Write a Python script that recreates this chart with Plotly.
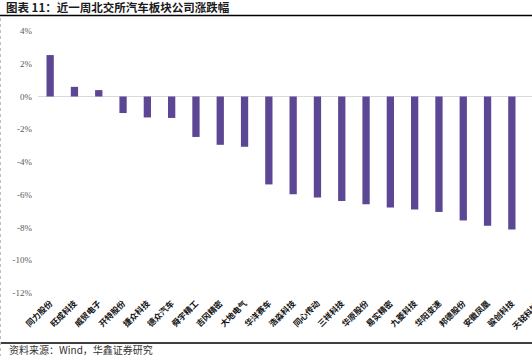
import plotly.graph_objects as go

categories = ["同力股份", "旺成科技", "威贸电子", "开特股份", "捷众科技", "德众汽车", "舜宇精工",
              "吉冈精密", "大地电气", "华洋赛车", "浩淼科技", "同心传动", "三祥科技", "华原股份",
              "易实精密", "九菱科技", "华阳变速", "邦德股份", "安徽凤凰", "骏创科技", "天铭科技"]
changes = [2.53, 0.59, 0.39, -1.01, -1.28, -1.31, -2.47, -2.95, -3.07, -5.37, -5.97, -6.17,
           -6.38, -6.58, -6.78, -6.90, -7.05, -7.57, -7.90, -8.12, -8.50]
y_ticks = [4, 2, 0, -2, -4, -6, -8, -10, -12]
y_tick_labels = ["4%", "2%", "0%", "-2%", "-4%", "-6%", "-8%", "-10%", "-12%"]

title_text = "图表 11：近一周北交所汽车板块公司涨跌幅"
source_text = "资料来源：Wind，华鑫证券研究"

W, H = 532, 356
L, R, T, B = 38, 0, 31, 63
plot_w = W - L - R
plot_h = H - T - B
step = 24.3
x_max = -0.5 + plot_w / step
x_range = [-0.5, x_max]

def px_to_paper_x(px):
    return (px - L) / plot_w

def px_to_paper_y(py):
    return (H - B - py) / plot_h

label_font = dict(family="Noto Sans CJK SC", size=8.3, color="#111111", weight="bold")

fig = go.Figure()
fig.add_trace(go.Bar(
    x=list(range(len(categories))),
    y=changes,
    marker=dict(color="#5C4794", line=dict(width=0)),
    hoverinfo="skip",
))

fig.update_layout(
    width=W, height=H,
    margin=dict(l=L, r=R, t=T, b=B, pad=0),
    paper_bgcolor="white", plot_bgcolor="white",
    showlegend=False,
    bargap=0.7,
    xaxis=dict(
        range=x_range,
        tickmode="array",
        tickvals=list(range(len(categories))),
        ticktext=categories,
        tickangle=-45,
        tickfont=label_font,
        showgrid=False, showline=False, zeroline=False,
        ticks="", ticklabelstandoff=3,
    ),
    yaxis=dict(
        range=[-12, 4],
        tickmode="array",
        tickvals=y_ticks,
        ticktext=y_tick_labels,
        tickfont=dict(family="Liberation Serif", size=9, color="#595959"),
        showgrid=False, showline=False,
        zeroline=True, zerolinecolor="#D9D9D9", zerolinewidth=1,
        ticks="", ticklabelstandoff=5,
    ),
)

# cut-off label for the last category (beyond the visible area)
last_idx = len(categories) - 1
fig.add_annotation(
    xref="paper", yref="paper",
    x=(last_idx + 0.5) / (x_max + 0.5) + 8 / plot_w, y=px_to_paper_y(H - B + 3),
    text=categories[last_idx], showarrow=False, textangle=-45,
    xanchor="right", yanchor="top",
    font=label_font,
)

# title
fig.add_annotation(
    xref="paper", yref="paper",
    x=px_to_paper_x(4), y=px_to_paper_y(7),
    text=title_text, showarrow=False, xanchor="left", yanchor="middle",
    font=dict(family="Noto Sans CJK SC", size=11.5, color="#1a1a1a", weight="bold"),
)
# source
fig.add_annotation(
    xref="paper", yref="paper",
    x=px_to_paper_x(7), y=px_to_paper_y(349),
    text=source_text, showarrow=False, xanchor="left", yanchor="middle",
    font=dict(family="Noto Sans CJK SC", size=10, color="#333333"),
)

# top and bottom rules
fig.add_shape(type="line", xref="paper", yref="paper",
              x0=px_to_paper_x(0), x1=px_to_paper_x(W), y0=px_to_paper_y(15.5), y1=px_to_paper_y(15.5),
              line=dict(color="black", width=1.5))
fig.add_shape(type="line", xref="paper", yref="paper",
              x0=px_to_paper_x(0), x1=px_to_paper_x(W), y0=px_to_paper_y(343), y1=px_to_paper_y(343),
              line=dict(color="black", width=1.5))
# left dotted border
fig.add_shape(type="line", xref="paper", yref="paper",
              x0=px_to_paper_x(0.5), x1=px_to_paper_x(0.5), y0=px_to_paper_y(18), y1=px_to_paper_y(H),
              line=dict(color="#BFBFBF", width=1, dash="dot"))

fig.write_html("out.html",
               config={"displayModeBar": False, "staticPlot": True},
               post_script="document.body.style.margin='0';document.body.style.overflow='hidden';")
